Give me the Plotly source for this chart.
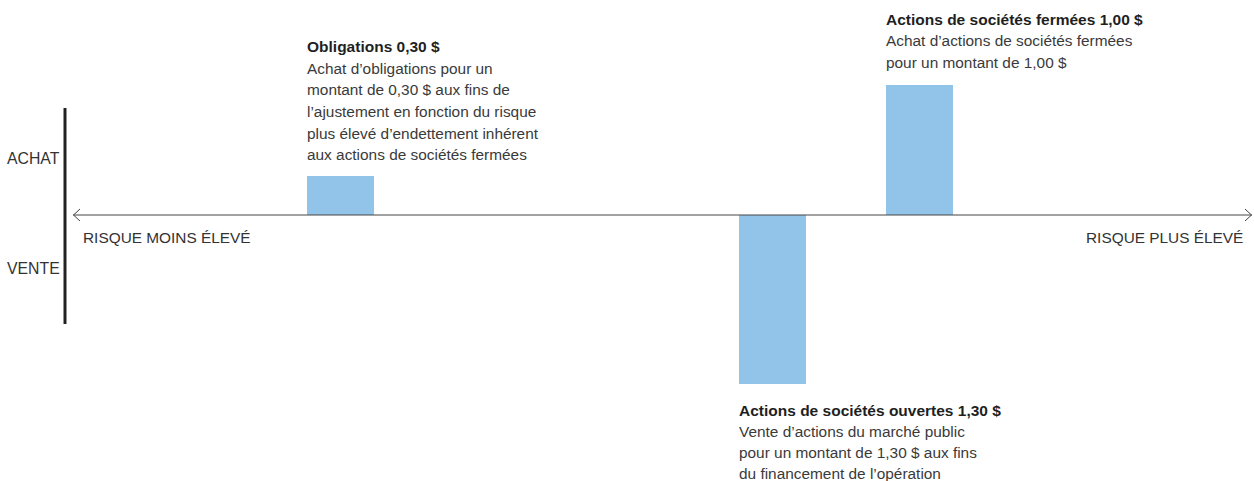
import plotly.graph_objects as go

# ---- data ----
categories = ["Obligations", "Actions de sociétés ouvertes", "Actions de sociétés fermées"]
values = [0.30, -1.30, 1.00]
titles = ["Obligations 0,30 $", "Actions de sociétés ouvertes 1,30 $", "Actions de sociétés fermées 1,00 $"]
descriptions = [
    ["Achat d’obligations pour un", "montant de 0,30 $ aux fins de",
     "l’ajustement en fonction du risque", "plus élevé d’endettement inhérent",
     "aux actions de sociétés fermées"],
    ["Vente d’actions du marché public", "pour un montant de 1,30 $ aux fins",
     "du financement de l’opération"],
    ["Achat d’actions de sociétés fermées", "pour un montant de 1,00 $"],
]
side_labels = ["ACHAT", "VENTE"]
axis_labels = ["RISQUE MOINS ÉLEVÉ", "RISQUE PLUS ÉLEVÉ"]

# ---- layout helpers (pixel geometry) ----
W, H = 1254, 481
bar_centers = [340.5, 772.5, 919.5]
bar_width = 67
zero_px = 215
px_per_unit = 130.0
y_top = zero_px / px_per_unit
y_bot = -(H - zero_px) / px_per_unit

def py(p):  # pixel-from-top -> paper y
    return 1 - p / H

def yv(p):  # pixel-from-top -> data y
    return (zero_px - p) / px_per_unit

FONT = "Helvetica Neue, Helvetica, Liberation Sans, Arial, sans-serif"
BAR_COLOR = "#92C4EA"

fig = go.Figure()
fig.add_trace(go.Bar(
    x=bar_centers, y=values, width=bar_width,
    marker=dict(color=BAR_COLOR, line=dict(width=0)),
    hovertext=categories, hoverinfo="text", showlegend=False,
))

annotations = []
# text blocks: (left x px, first line center px, line spacing)
blocks = [(305, 46, 22), (737, 410, 21.5), (884, 19, 22)]
for (lx, ty, sp), t, desc in zip(blocks, titles, descriptions):
    annotations.append(dict(x=lx, y=py(ty), xref="x", yref="paper", text="<b>" + t + "</b>",
                            showarrow=False, xanchor="left", yanchor="middle",
                            font=dict(family=FONT, size=15.5, color="#1f1f1f")))
    for i, line in enumerate(desc):
        annotations.append(dict(x=lx, y=py(ty + sp * (i + 1) - 0.3 * i), xref="x", yref="paper", text=line,
                                showarrow=False, xanchor="left", yanchor="middle",
                                font=dict(family=FONT, size=15.4, color="#3a3a3a")))

annotations.append(dict(x=62, y=py(158), xref="x", yref="paper", text=side_labels[0], showarrow=False,
                        xanchor="right", yanchor="middle", font=dict(family=FONT, size=15.8, color="#333333")))
annotations.append(dict(x=62, y=py(268), xref="x", yref="paper", text=side_labels[1], showarrow=False,
                        xanchor="right", yanchor="middle", font=dict(family=FONT, size=15.8, color="#333333")))
annotations.append(dict(x=81, y=py(237), xref="x", yref="paper", text=axis_labels[0], showarrow=False,
                        xanchor="left", yanchor="middle", font=dict(family=FONT, size=15.4, color="#333333")))
annotations.append(dict(x=1245, y=py(237), xref="x", yref="paper", text=axis_labels[1], showarrow=False,
                        xanchor="right", yanchor="middle", font=dict(family=FONT, size=15.4, color="#333333")))

ah = 6 / px_per_unit
shapes = [
    # horizontal axis line
    dict(type="line", x0=73, x1=1252, y0=0, y1=0, xref="x", yref="y",
         line=dict(color="#444444", width=1)),
    # left chevron
    dict(type="path", path=f"M 80,{ah} L 73.5,0 L 80,{-ah}", xref="x", yref="y",
         line=dict(color="#444444", width=1)),
    # right chevron
    dict(type="path", path=f"M 1245,{ah} L 1251.5,0 L 1245,{-ah}", xref="x", yref="y",
         line=dict(color="#444444", width=1)),
    # vertical bar
    dict(type="line", x0=65, x1=65, y0=yv(108), y1=yv(324), xref="x", yref="y",
         line=dict(color="#222222", width=3)),
]

fig.update_layout(
    width=W, height=H,
    margin=dict(l=0, r=0, t=0, b=0),
    paper_bgcolor="white", plot_bgcolor="white",
    xaxis=dict(range=[0, W], visible=False, fixedrange=True),
    yaxis=dict(range=[y_bot, y_top], visible=False, fixedrange=True),
    annotations=annotations, shapes=shapes,
    bargap=0,
)

fig.write_html("out.html", config={"displayModeBar": False},
               post_script="document.body.style.margin='0';document.body.style.overflow='hidden';")
